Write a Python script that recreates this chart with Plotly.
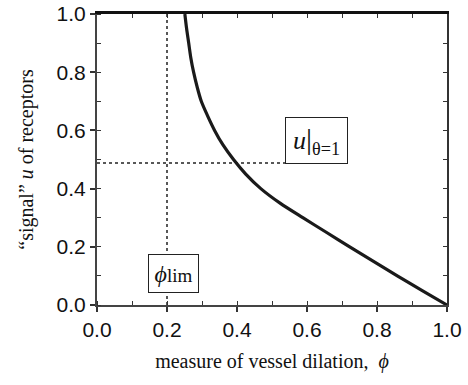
import plotly.graph_objects as go

# curve (u values with the matching phi)
u = [1.00, 0.95, 0.90, 0.85, 0.80, 0.75, 0.70, 0.65, 0.60, 0.55, 0.50,
     0.45, 0.40, 0.35, 0.30, 0.25, 0.20, 0.15, 0.10, 0.05, 0.00]
phi = [0.251, 0.256, 0.262, 0.268, 0.276, 0.286, 0.298, 0.316, 0.336, 0.360, 0.390,
       0.425, 0.468, 0.523, 0.588, 0.655, 0.722, 0.790, 0.858, 0.928, 1.000]

phi_lim = 0.2
u_theta = 0.488
u_line_end = 0.54
tick_vals = [0.0, 0.2, 0.4, 0.6, 0.8, 1.0]

fig = go.Figure()

# dotted guide lines
fig.add_trace(go.Scatter(x=[phi_lim, phi_lim], y=[0, 1], mode="lines",
                         line=dict(color="#222", width=1.5, dash="dot"),
                         hoverinfo="skip", showlegend=False))
fig.add_trace(go.Scatter(x=[0, u_line_end], y=[u_theta, u_theta], mode="lines",
                         line=dict(color="#222", width=1.5, dash="dot"),
                         hoverinfo="skip", showlegend=False))
# main curve
fig.add_trace(go.Scatter(x=phi, y=u, mode="lines",
                         line=dict(color="#1a1a1a", width=3.2, shape="spline", smoothing=0.8),
                         showlegend=False))
# invisible trace for top/right axes
fig.add_trace(go.Scatter(x=[0, 1], y=[0, 1], xaxis="x2", yaxis="y2", mode="markers",
                         marker=dict(opacity=0), hoverinfo="skip", showlegend=False))

serif = "Liberation Serif, Times New Roman, serif"
sans = "Liberation Sans, Arial, sans-serif"

fig.add_annotation(x=0.627, y=0.567, xref="x", yref="y",
                   text="<i>u</i><span style='font-size:30px'>|</span><sub>θ=1</sub>", showarrow=False,
                   font=dict(family=serif, size=26, color="#111"),
                   bgcolor="white", bordercolor="#222", borderwidth=1,
                   width=61, height=45, borderpad=0)
fig.add_annotation(x=0.2185, y=0.108, xref="x", yref="y",
                   text="<i>ϕ</i><span style='font-size:19px'>lim</span>", showarrow=False,
                   font=dict(family=serif, size=24, color="#111"),
                   bgcolor="white", bordercolor="#222", borderwidth=1,
                   width=49, height=37, borderpad=0)

axis_common = dict(range=[0, 1], showgrid=False, zeroline=False, automargin=False)

fig.update_layout(
    width=468, height=385,
    margin=dict(l=97, r=21, t=14, b=80),
    paper_bgcolor="white", plot_bgcolor="white",
    xaxis=dict(**axis_common, tickvals=tick_vals, tickformat=".1f",
               ticks="outside", ticklen=5, tickwidth=1.5, tickcolor="#333",
               showline=True, linewidth=2, linecolor="#444",
               minor=dict(dtick=0.1, ticks="inside", ticklen=4, tickwidth=1, tickcolor="#333"),
               tickfont=dict(family=sans, size=21, color="#111"),
               title=dict(text="measure of vessel dilation,  <i>ϕ</i>",
                          font=dict(family=serif, size=20, color="#111"), standoff=14)),
    yaxis=dict(**axis_common, tickvals=tick_vals, tickformat=".1f",
               ticks="outside", ticklen=5, tickwidth=1.5, tickcolor="#333",
               showline=True, linewidth=2, linecolor="#444",
               minor=dict(dtick=0.1, ticks="inside", ticklen=4, tickwidth=1, tickcolor="#333"),
               tickfont=dict(family=sans, size=21, color="#111"),
               title=dict(text="“signal” <i>u</i> of receptors",
                          font=dict(family=serif, size=20, color="#111"), standoff=18)),
    xaxis2=dict(**axis_common, overlaying="x", side="top", anchor="y",
                dtick=0.1, tick0=0, ticks="inside", ticklen=4, tickwidth=1, tickcolor="#333",
                showticklabels=False, showline=True, linewidth=2.5, linecolor="#111"),
    yaxis2=dict(**axis_common, overlaying="y", side="right", anchor="x",
                dtick=0.1, tick0=0, ticks="inside", ticklen=4, tickwidth=1, tickcolor="#333",
                showticklabels=False, showline=True, linewidth=2, linecolor="#333"),
)

fig.write_html("out.html")
